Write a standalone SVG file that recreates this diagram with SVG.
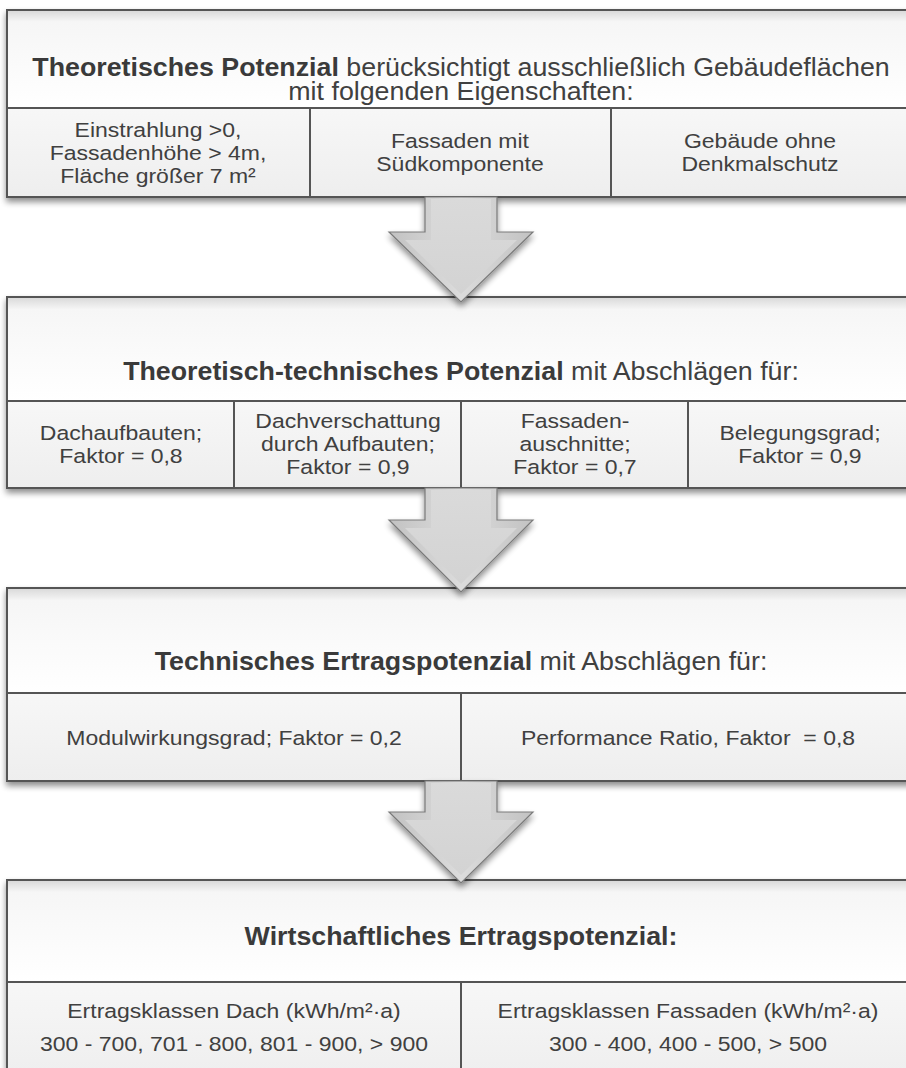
<svg xmlns="http://www.w3.org/2000/svg" width="906" height="1068" viewBox="0 0 906 1068">
<defs>
<linearGradient id="hdr" x1="0" y1="0" x2="0" y2="1">
<stop offset="0" stop-color="#d8d8d8"/>
<stop offset="0.12" stop-color="#f6f6f6"/>
<stop offset="1" stop-color="#ffffff"/>
</linearGradient>
<linearGradient id="cell" x1="0" y1="0" x2="0" y2="1">
<stop offset="0" stop-color="#f7f7f7"/>
<stop offset="1" stop-color="#eeeeee"/>
</linearGradient>
<linearGradient id="arr" x1="0" y1="0" x2="1" y2="0">
<stop offset="0" stop-color="#c2c2c2"/>
<stop offset="0.5" stop-color="#dcdcdc"/>
<stop offset="1" stop-color="#c2c2c2"/>
</linearGradient>
<linearGradient id="arrin" x1="0" y1="0" x2="0" y2="1">
<stop offset="0" stop-color="#dadada"/>
<stop offset="1" stop-color="#d3d3d3"/>
</linearGradient>
<filter id="sh" x="-5%" y="-10%" width="110%" height="130%">
<feGaussianBlur in="SourceAlpha" stdDeviation="3"/>
<feOffset dy="4"/>
<feComponentTransfer><feFuncA type="linear" slope="0.45"/></feComponentTransfer>
<feMerge><feMergeNode/><feMergeNode in="SourceGraphic"/></feMerge>
</filter>
</defs>
<style>
.hd{fill:url(#hdr);stroke:#555;stroke-width:2}
.cl{fill:url(#cell);stroke:#555;stroke-width:2}
.ln{stroke:#555;stroke-width:2}
.t{font-family:"Liberation Sans",Arial,sans-serif;fill:#404040;text-anchor:middle}
.ti{font-size:26.8px}
.b{font-weight:bold;fill:#3a3a3a}
.c{font-size:23px}
.ar{fill:url(#arr);stroke:#7a7a7a;stroke-width:1.2;stroke-linejoin:miter}
.ai{fill:url(#arrin);stroke:none}
</style>
<rect width="906" height="1068" fill="#ffffff"/>

<g id="box1" filter="url(#sh)">
<rect class="hd" x="7" y="10" width="920" height="98"/>
<rect class="cl" x="7" y="108" width="920" height="89"/>
<line class="ln" x1="310" y1="108" x2="310" y2="197"/>
<line class="ln" x1="611" y1="108" x2="611" y2="197"/>
</g>
<g id="box1-text">
<text class="t ti" transform="translate(461,76) scale(1,0.93)"><tspan class="b">Theoretisches Potenzial</tspan> berücksichtigt ausschließlich Gebäudeflächen</text>
<text class="t ti" transform="translate(461,100) scale(1,0.93)">mit folgenden Eigenschaften:</text>
<text class="t c" transform="translate(158,137) scale(1,0.9)">Einstrahlung &gt;0,</text>
<text class="t c" transform="translate(158,160) scale(1,0.9)">Fassadenhöhe &gt; 4m,</text>
<text class="t c" transform="translate(158,183) scale(1,0.9)">Fläche größer 7 m²</text>
<text class="t c" transform="translate(460,148) scale(1,0.9)">Fassaden mit</text>
<text class="t c" transform="translate(460,171) scale(1,0.9)">Südkomponente</text>
<text class="t c" transform="translate(760,148) scale(1,0.9)">Gebäude ohne</text>
<text class="t c" transform="translate(760,171) scale(1,0.9)">Denkmalschutz</text>
</g>

<g id="box2" filter="url(#sh)">
<rect class="hd" x="7" y="297" width="920" height="104"/>
<rect class="cl" x="7" y="401" width="920" height="87"/>
<line class="ln" x1="234" y1="401" x2="234" y2="488"/>
<line class="ln" x1="461" y1="401" x2="461" y2="488"/>
<line class="ln" x1="688" y1="401" x2="688" y2="488"/>
</g>
<g id="box2-text">
<text class="t ti" transform="translate(461,380) scale(1,0.93)"><tspan class="b">Theoretisch-technisches Potenzial</tspan> mit Abschlägen für:</text>
<text class="t c" transform="translate(121,440) scale(1,0.9)">Dachaufbauten;</text>
<text class="t c" transform="translate(121,463) scale(1,0.9)">Faktor = 0,8</text>
<text class="t c" transform="translate(348,428) scale(1,0.9)">Dachverschattung</text>
<text class="t c" transform="translate(348,451) scale(1,0.9)">durch Aufbauten;</text>
<text class="t c" transform="translate(348,474) scale(1,0.9)">Faktor = 0,9</text>
<text class="t c" transform="translate(575,428) scale(1,0.9)">Fassaden-</text>
<text class="t c" transform="translate(575,451) scale(1,0.9)">auschnitte;</text>
<text class="t c" transform="translate(575,474) scale(1,0.9)">Faktor = 0,7</text>
<text class="t c" transform="translate(800,440) scale(1,0.9)">Belegungsgrad;</text>
<text class="t c" transform="translate(800,463) scale(1,0.9)">Faktor = 0,9</text>
</g>

<g id="box3" filter="url(#sh)">
<rect class="hd" x="7" y="588" width="920" height="105"/>
<rect class="cl" x="7" y="693" width="920" height="88"/>
<line class="ln" x1="461" y1="693" x2="461" y2="781"/>
</g>
<g id="box3-text">
<text class="t ti" transform="translate(461,670) scale(1,0.93)"><tspan class="b">Technisches Ertragspotenzial</tspan> mit Abschlägen für:</text>
<text class="t c" transform="translate(234,745) scale(1,0.9)">Modulwirkungsgrad; Faktor = 0,2</text>
<text class="t c" transform="translate(688,745) scale(1,0.9)">Performance Ratio, Faktor &#160;= 0,8</text>
</g>

<g id="box4" filter="url(#sh)">
<rect class="hd" x="7" y="880" width="920" height="102"/>
<rect class="cl" x="7" y="982" width="920" height="100"/>
<line class="ln" x1="461" y1="982" x2="461" y2="1082"/>
</g>
<g id="box4-text">
<text class="t ti" transform="translate(461,945) scale(1,0.93)"><tspan class="b">Wirtschaftliches Ertragspotenzial:</tspan></text>
<text class="t c" transform="translate(234,1018) scale(1,0.9)">Ertragsklassen Dach (kWh/m²·a)</text>
<text class="t c" transform="translate(234,1051) scale(1,0.9)">300 - 700, 701 - 800, 801 - 900, &gt; 900</text>
<text class="t c" transform="translate(688,1018) scale(1,0.9)">Ertragsklassen Fassaden (kWh/m²·a)</text>
<text class="t c" transform="translate(688,1051) scale(1,0.9)">300 - 400, 400 - 500, &gt; 500</text>
</g>

<g id="connectors">
<g filter="url(#sh)">
<polygon class="ar" points="425,197 497,197 497,232 533,232 461,302 389,232 425,232"/>
<polygon class="ar" points="425,488 497,488 497,520 533,520 461,592 389,520 425,520"/>
<polygon class="ar" points="425,781 497,781 497,812 533,812 461,883 389,812 425,812"/>
</g>
<polygon class="ai" points="431,199 491,199 491,240 517,240 461,294 405,240 431,240"/>
<polygon class="ai" points="431,490 491,490 491,528 517,528 461,584 405,528 431,528"/>
<polygon class="ai" points="431,783 491,783 491,820 517,820 461,875 405,820 431,820"/>
</g>
</svg>
